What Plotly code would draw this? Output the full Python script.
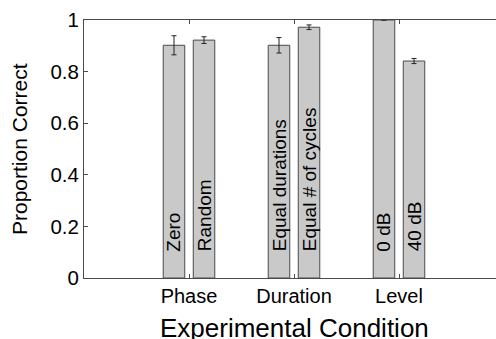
import plotly.graph_objects as go

categories = ["Phase", "Duration", "Level"]
cat_pos = [1, 2, 3]
bar_labels = ["Zero", "Random", "Equal durations", "Equal # of cycles", "0 dB", "40 dB"]
bar_cat = [1, 1, 2, 2, 3, 3]
bar_side = [-1, 1, -1, 1, -1, 1]
values = [0.902, 0.922, 0.902, 0.972, 1.0, 0.841]
errors = [0.037, 0.013, 0.030, 0.009, 0.0, 0.010]
yticks = [0, 0.2, 0.4, 0.6, 0.8, 1]
yticklabels = ["0", "0.2", "0.4", "0.6", "0.8", "1"]

offset = 0.143
bw = 0.205
xs = [c + s * offset for c, s in zip(bar_cat, bar_side)]

FONT = "Liberation Sans, Arial, sans-serif"
LINE = "#4a4a4a"
TXT = "#000000"
XR = [0, (496 - 84) / 105.0]

fig = go.Figure()
fig.add_trace(go.Bar(
    x=xs, y=values, width=bw,
    marker=dict(color="#c9c9c9", line=dict(color=LINE, width=1)),
    error_y=dict(type="data", array=errors, visible=True, color="#222222", thickness=1, width=2.5),
    showlegend=False, hoverinfo="skip",
))
# invisible helper trace so the top axis (frame line with ticks) is drawn
fig.add_trace(go.Scatter(
    x=cat_pos, y=[0, 0, 0], xaxis="x2", yaxis="y", mode="markers",
    marker=dict(opacity=0), showlegend=False, hoverinfo="skip",
))

annotations = []
for x, lab in zip(xs, bar_labels):
    annotations.append(dict(
        x=x, y=0.1, xref="x", yref="y", text=lab, textangle=-90,
        showarrow=False, xanchor="center", yanchor="bottom",
        font=dict(family=FONT, size=19, color=TXT), borderpad=0,
    ))
annotations.append(dict(
    x=2, y=0, xref="x", yref="paper", text="Experimental Condition",
    showarrow=False, xanchor="center", yanchor="top", yshift=-33,
    font=dict(family=FONT, size=26, color=TXT),
))
annotations.append(dict(
    x=0, y=0.5, xref="paper", yref="paper", text="Proportion Correct", textangle=-90,
    showarrow=False, xanchor="center", yanchor="middle", xshift=-65,
    font=dict(family=FONT, size=21, color=TXT),
))

fig.update_layout(
    width=496, height=339,
    margin=dict(l=84, r=0, t=20, b=61),
    paper_bgcolor="white", plot_bgcolor="white",
    font=dict(family=FONT, color=TXT),
    annotations=annotations,
    xaxis=dict(
        range=XR, tickvals=cat_pos, ticktext=categories,
        showline=True, linecolor=LINE, linewidth=1, mirror=False,
        ticks="inside", ticklen=4, tickcolor=LINE, showgrid=False, zeroline=False,
        tickfont=dict(family=FONT, size=20, color=TXT),
    ),
    xaxis2=dict(
        range=XR, tickvals=cat_pos, overlaying="x", side="top", anchor="y",
        showticklabels=False,
        showline=True, linecolor=LINE, linewidth=1, mirror=False,
        ticks="inside", ticklen=4, tickcolor=LINE, showgrid=False, zeroline=False,
    ),
    yaxis=dict(
        range=[0, 1], tickvals=yticks, ticktext=yticklabels,
        showline=True, linecolor=LINE, linewidth=1, mirror=False,
        ticks="inside", ticklen=4, tickcolor=LINE, showgrid=False, zeroline=False,
        tickfont=dict(family=FONT, size=20.5, color=TXT),
    ),
)

fig.write_html("out.html")
